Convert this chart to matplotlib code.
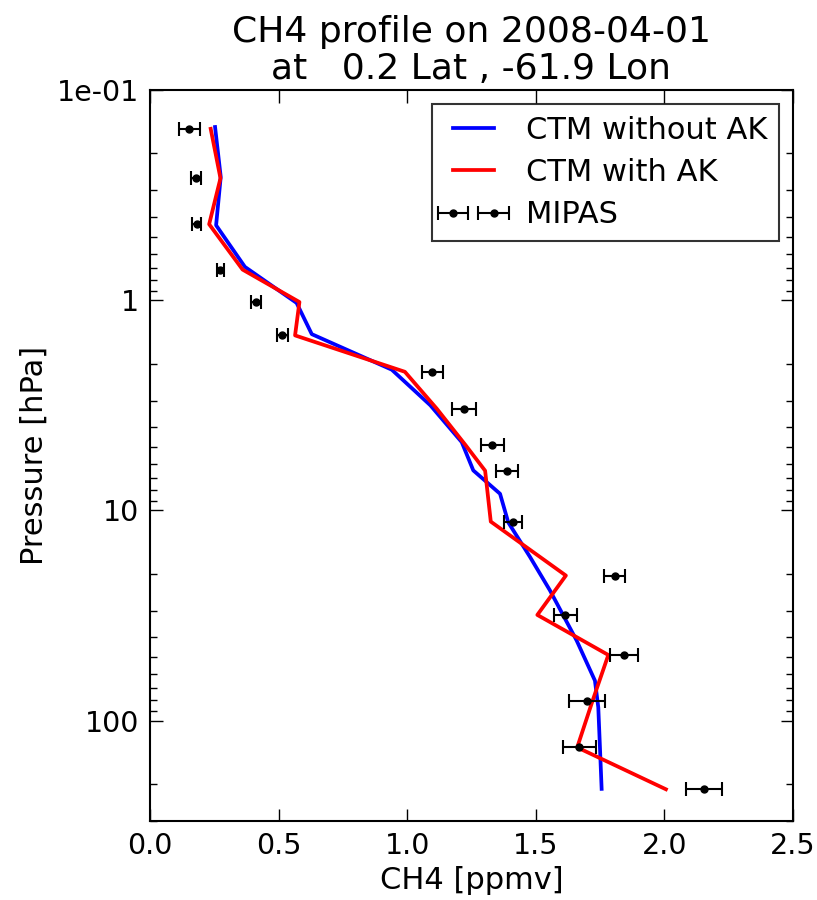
import matplotlib
matplotlib.use("Agg")
import matplotlib.pyplot as plt
from matplotlib.ticker import FixedLocator, FixedFormatter, LogLocator, NullFormatter

# MIPAS retrieval levels
mipas_p = [0.153, 0.263, 0.435, 0.715, 1.02, 1.47, 2.19, 3.28, 4.89, 6.47,
           11.3, 20.4, 31.4, 48.7, 80.9, 134, 212]
mipas_ch4 = [0.153, 0.179, 0.181, 0.273, 0.412, 0.514, 1.098, 1.221, 1.331, 1.388,
             1.410, 1.807, 1.615, 1.843, 1.700, 1.669, 2.154]
mipas_err = [0.041, 0.018, 0.016, 0.013, 0.020, 0.021, 0.040, 0.047, 0.045, 0.043,
             0.035, 0.041, 0.044, 0.056, 0.071, 0.065, 0.071]

# CTM with averaging kernel (on MIPAS levels)
ak_ch4 = [0.236, 0.274, 0.230, 0.360, 0.581, 0.564, 0.991, 1.115, 1.227, 1.303,
          1.325, 1.617, 1.506, 1.782, 1.720, 1.661, 2.006]

# CTM without averaging kernel (model levels)
ctm_p = [0.150, 0.259, 0.440, 0.694, 1.03, 1.45, 2.14, 3.16, 4.73, 6.45,
         8.33, 11.4, 16.6, 24.0, 41.6, 64.5, 86.4, 139, 211]
ctm_ch4 = [0.253, 0.275, 0.257, 0.369, 0.570, 0.629, 0.940, 1.090, 1.212, 1.257,
           1.361, 1.393, 1.477, 1.555, 1.659, 1.730, 1.743, 1.750, 1.756]

fig = plt.figure(figsize=(8.17, 9), dpi=100)
ax = fig.add_axes([0.1836, 0.0878, 0.787, 0.8122])

ax.plot(ctm_ch4, ctm_p, color='blue', lw=2.7, label='CTM without AK')
ax.plot(ak_ch4, mipas_p, color='red', lw=2.7, label='CTM with AK')
ax.errorbar(mipas_ch4, mipas_p, xerr=mipas_err, fmt='o', color='black',
            ms=5, elinewidth=1.5, capsize=5, capthick=1.5, label='MIPAS')

ax.set_yscale('log')
ax.set_ylim(300, 0.1)
ax.set_xlim(0, 2.5)
ax.yaxis.set_major_locator(FixedLocator([0.1, 1, 10, 100]))
ax.yaxis.set_major_formatter(FixedFormatter(['1e-01', '1', '10', '100']))
ax.yaxis.set_minor_locator(LogLocator(base=10, subs=range(2, 10)))
ax.yaxis.set_minor_formatter(NullFormatter())
ax.set_xticks([0.0, 0.5, 1.0, 1.5, 2.0, 2.5])
ax.set_xticklabels(['0.0', '0.5', '1.0', '1.5', '2.0', '2.5'])

ax.tick_params(which='both', direction='in', top=True, right=True, labelsize=20.5)
ax.tick_params(which='major', length=9, width=1, pad=8)
ax.tick_params(which='minor', length=5, width=1)
for s in ax.spines.values():
    s.set_linewidth(1.5)

ax.set_xlabel('CH4 [ppmv]', fontsize=22, labelpad=4)
ax.set_ylabel('Pressure [hPa]', fontsize=22, labelpad=6)
ax.set_title('CH4 profile on 2008-04-01\nat   0.2 Lat , -61.9 Lon', fontsize=26,
             linespacing=1.1, pad=8)

leg = ax.legend(loc='upper right', numpoints=2, fontsize=22, fancybox=False,
                handlelength=1.93, handletextpad=0.75, borderpad=0.4,
                labelspacing=0.43, borderaxespad=0.45)
leg.get_frame().set_edgecolor('black')
leg.get_frame().set_linewidth(1.5)

fig.savefig('out.png', dpi=100, facecolor='white')
